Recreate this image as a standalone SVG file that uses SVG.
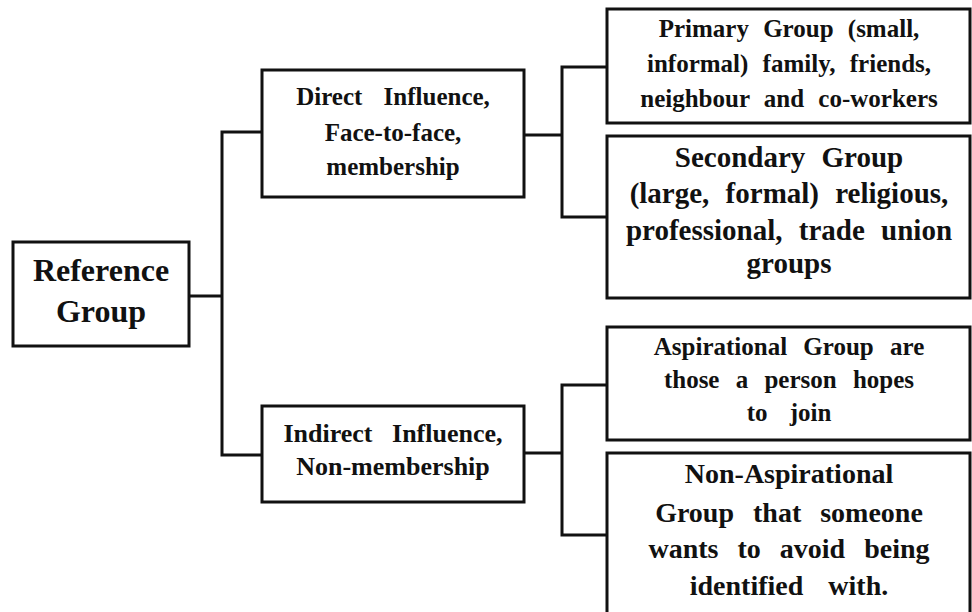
<svg xmlns="http://www.w3.org/2000/svg" width="972" height="612" viewBox="0 0 972 612">
<style>
.box{fill:#fff;stroke:#111;stroke-width:3}
.conn{fill:none;stroke:#111;stroke-width:3;stroke-linejoin:miter}
text{font-family:"Liberation Serif","Times New Roman",serif;font-weight:bold;fill:#111;text-anchor:middle}
</style>
<rect width="972" height="612" fill="#fff"/>
<g id="connectors">
<path class="conn" d="M189 296 H222"/>
<path class="conn" d="M262 132 H222 V455 H262"/>
<path class="conn" d="M524 135 H562"/>
<path class="conn" d="M607 67 H562 V217 H607"/>
<path class="conn" d="M524 453 H562"/>
<path class="conn" d="M607 385 H562 V535 H607"/>
</g>
<g id="reference-group">
<rect class="box" x="13" y="242" width="176" height="104"/>
<text font-size="32"><tspan x="101" y="281">Reference</tspan><tspan x="101" y="322">Group</tspan></text>
</g>
<g id="direct-influence">
<rect class="box" x="262" y="70" width="262" height="127"/>
<text font-size="25"><tspan x="393" y="105" word-spacing="15">Direct Influence,</tspan><tspan x="393" y="141">Face-to-face,</tspan><tspan x="393" y="175">membership</tspan></text>
</g>
<g id="indirect-influence">
<rect class="box" x="262" y="406" width="262" height="96"/>
<text font-size="26"><tspan x="393" y="442" word-spacing="13">Indirect Influence,</tspan><tspan x="393" y="475">Non-membership</tspan></text>
</g>
<g id="primary-group">
<rect class="box" x="607" y="9" width="363" height="114"/>
<text font-size="25" word-spacing="8"><tspan x="789" y="37">Primary Group (small,</tspan><tspan x="789" y="72">informal) family, friends,</tspan><tspan x="789" y="107">neighbour and co-workers</tspan></text>
</g>
<g id="secondary-group">
<rect class="box" x="607" y="136" width="363" height="162"/>
<text font-size="29" word-spacing="9"><tspan x="789" y="167">Secondary Group</tspan><tspan x="789" y="203">(large, formal) religious,</tspan><tspan x="789" y="240">professional, trade union</tspan><tspan x="789" y="273">groups</tspan></text>
</g>
<g id="aspirational-group">
<rect class="box" x="607" y="327" width="363" height="113"/>
<text font-size="25" word-spacing="10"><tspan x="789" y="355">Aspirational Group are</tspan><tspan x="789" y="388">those a person hopes</tspan><tspan x="789" y="421" word-spacing="16">to join</tspan></text>
</g>
<g id="non-aspirational-group">
<rect class="box" x="607" y="453" width="363" height="170"/>
<text font-size="28" word-spacing="12"><tspan x="789" y="483">Non-Aspirational</tspan><tspan x="789" y="522">Group that someone</tspan><tspan x="789" y="558">wants to avoid being</tspan><tspan x="789" y="595" word-spacing="18">identified with.</tspan></text>
</g>
</svg>
